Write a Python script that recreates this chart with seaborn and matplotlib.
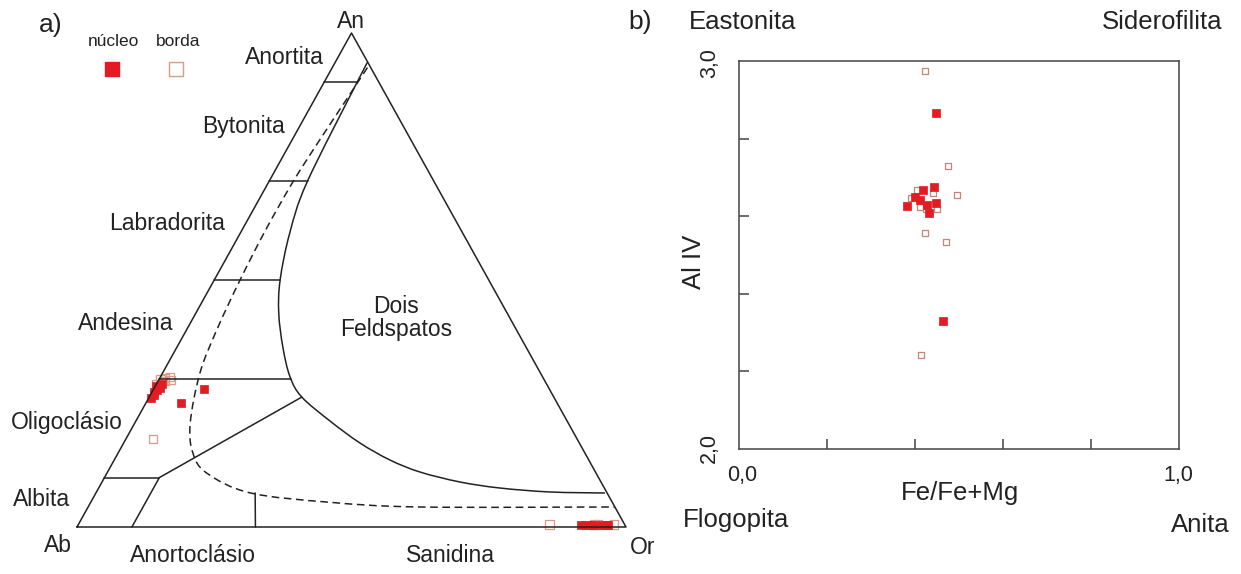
import matplotlib
matplotlib.use("Agg")
import matplotlib.pyplot as plt
from matplotlib.path import Path
from matplotlib.patches import PathPatch
import numpy as np
import pandas as pd
import seaborn as sns

# ---- data: feldspar compositions (An, Or fractions; Ab = rest) ----
nucleo_an = [0.267, 0.277, 0.281, 0.289, 0.285, 0.273, 0.262, 0.279, 0.251,
             0.005, 0.005, 0.005, 0.005, 0.005, 0.005, 0.005]
nucleo_or = [0.007, 0.007, 0.010, 0.010, 0.002, 0.004, 0.004, 0.092, 0.064,
             0.916, 0.925, 0.934, 0.940, 0.953, 0.962, 0.965]
borda_an = [0.300, 0.301, 0.303, 0.298, 0.295, 0.290, 0.178,
            0.005, 0.005, 0.005, 0.005]
borda_or = [0.002, 0.010, 0.018, 0.022, 0.012, 0.000, 0.050,
            0.858, 0.940, 0.947, 0.976]

# ---- data: biotite Fe/(Fe+Mg) vs Al IV ----
nucleo_fe = [0.448, 0.443, 0.418, 0.400, 0.411, 0.382, 0.427, 0.448, 0.432, 0.464]
nucleo_al = [2.866, 2.675, 2.668, 2.649, 2.642, 2.626, 2.629, 2.634, 2.608, 2.330]
borda_fe = [0.423, 0.475, 0.495, 0.405, 0.391, 0.441, 0.411, 0.450, 0.425,
            0.423, 0.470, 0.414]
borda_al = [2.974, 2.729, 2.655, 2.668, 2.647, 2.660, 2.624, 2.619, 2.619,
            2.557, 2.534, 2.242]

# ---- ternary field boundaries (An, Or) ----
two_feld = [(0.941, 0.059), (0.901, 0.060), (0.698, 0.070), (0.595, 0.090),
            (0.50, 0.120), (0.433, 0.151), (0.364, 0.193), (0.304, 0.236),
            (0.263, 0.278), (0.2146, 0.3535), (0.170, 0.4305), (0.1356, 0.5023),
            (0.1113, 0.5691), (0.0911, 0.6521), (0.0789, 0.731),
            (0.0709, 0.8262), (0.0688, 0.9273)]
solvus = [(0.93, 0.064), (0.864, 0.058), (0.78, 0.050), (0.698, 0.044),
          (0.60, 0.043), (0.50, 0.047), (0.40, 0.055), (0.312, 0.068),
          (0.2105, 0.101), (0.150, 0.136), (0.109, 0.182), (0.069, 0.281),
          (0.050, 0.436), (0.0405, 0.605), (0.0405, 0.9595)]
plag_lines = [[(0.9, 0.0), (0.9, 0.060)], [(0.7, 0.0), (0.7, 0.070)],
              [(0.5, 0.0), (0.5, 0.120)], [(0.3, 0.0), (0.3, 0.240)],
              [(0.1, 0.0), (0.1, 0.100)], [(0.1, 0.100), (0.263, 0.278)],
              [(0.1, 0.100), (0.0, 0.100)], [(0.0, 0.325), (0.069, 0.290)]]

W, H = 1241, 574
red = "#E31B23"
pale = "#DE9A86"
ink = "#222222"

sns.set_style("white")
plt.rcParams["font.family"] = ["Liberation Sans", "DejaVu Sans"]
fig = plt.figure(figsize=(W / 100, H / 100), dpi=100)


def fig_text(x, y, s, size=16.5, **kw):
    kw.setdefault("ha", "center")
    fig.text(x / W, 1 - y / H, s, fontsize=size, va="center", color=ink, **kw)


def tern(an, orr):
    an = np.asarray(an, dtype=float)
    orr = np.asarray(orr, dtype=float)
    return orr + an / 2, an


def smooth_path(pts):
    # catmull-rom vertices turned into cubic bezier segments
    x, y = tern(*zip(*pts))
    p = np.column_stack([x, y])
    verts = [p[0]]
    codes = [Path.MOVETO]
    n = len(p)
    for i in range(n - 1):
        p0 = p[max(i - 1, 0)]
        p1, p2 = p[i], p[i + 1]
        p3 = p[min(i + 2, n - 1)]
        verts += [p1 + (p2 - p0) / 6, p2 - (p3 - p1) / 6, p2]
        codes += [Path.CURVE4] * 3
    return Path(verts, codes)


# ---------------- panel a: ternary ----------------
ax1 = fig.add_axes([77 / W, 1 - 527 / H, 549 / W, 494 / H])
ax1.set_xlim(0, 1)
ax1.set_ylim(0, 1)
ax1.axis("off")

tx, ty = tern([0, 0, 1, 0], [0, 1, 0, 0])
ax1.plot(tx, ty, color=ink, lw=1.1, clip_on=False)
ax1.add_patch(PathPatch(smooth_path(two_feld), fill=False, edgecolor=ink,
                        lw=1.1, clip_on=False))
ax1.add_patch(PathPatch(smooth_path(solvus), fill=False, edgecolor=ink,
                        lw=1.1, ls=(0, (5, 3)), clip_on=False))
for seg in plag_lines:
    x, y = tern(*zip(*seg))
    ax1.plot(x, y, color=ink, lw=1.1, clip_on=False)

xn, yn = tern(nucleo_an, nucleo_or)
xb, yb = tern(borda_an, borda_or)
df_a_n = pd.DataFrame({"x": xn, "y": yn})
df_a_b = pd.DataFrame({"x": xb, "y": yb})
sns.scatterplot(data=df_a_b, x="x", y="y", ax=ax1, marker="s", s=36,
                facecolor="none", edgecolor=pale, linewidth=0.9, clip_on=False)
sns.scatterplot(data=df_a_n, x="x", y="y", ax=ax1, marker="s", s=38,
                color=red, edgecolor=red, linewidth=0.5, clip_on=False)

# legend
axl = fig.add_axes([0, 0, 1, 1])
axl.set_xlim(0, W)
axl.set_ylim(H, 0)
axl.axis("off")
axl.scatter([112], [69], marker="s", s=100, color=red, edgecolor=red)
axl.scatter([176], [69], marker="s", s=90, facecolor="none", edgecolor=pale, linewidth=1)
fig_text(113, 42, "núcleo", size=12.5)
fig_text(178, 42, "borda", size=12.5)

fig_text(51, 25, "a)", size=19)
fig_text(351, 21, "An")
fig_text(284, 58, "Anortita")
fig_text(243, 126, "Bytonita")
fig_text(167, 223, "Labradorita")
fig_text(126, 323, "Andesina")
fig_text(67, 422, "Oligoclásio")
fig_text(42, 500, "Albita")
fig_text(58, 545, "Ab")
fig_text(193, 556, "Anortoclásio")
fig_text(450, 556, "Sanidina")
fig_text(643, 547, "Or")
fig_text(396, 318, "Dois\nFeldspatos", linespacing=1.05)

# ---------------- panel b: biotite ----------------
ax2 = fig.add_axes([739 / W, 1 - 449 / H, 440 / W, 388 / H])
df_b_n = pd.DataFrame({"fe": nucleo_fe, "al": nucleo_al})
df_b_b = pd.DataFrame({"fe": borda_fe, "al": borda_al})
sns.scatterplot(data=df_b_b, x="fe", y="al", ax=ax2, marker="s", s=22,
                facecolor="none", edgecolor="#C98574", linewidth=0.9)
sns.scatterplot(data=df_b_n, x="fe", y="al", ax=ax2, marker="s", s=26,
                color=red, edgecolor=red, linewidth=0.5)
ax2.set_xlim(0, 1)
ax2.set_ylim(2.0, 3.0)
ax2.set_xticks([0.2, 0.4, 0.6, 0.8])
ax2.set_yticks([2.2, 2.4, 2.6, 2.8])
ax2.set_xticklabels([])
ax2.set_yticklabels([])
ax2.set_xlabel("")
ax2.set_ylabel("")
ax2.tick_params(direction="in", length=7.5, width=1.1, color="#444",
                bottom=True, left=True, top=False, right=False)
for sp in ax2.spines.values():
    sp.set_color("#444")
    sp.set_linewidth(1.1)

fig_text(640, 22, "b)", size=19)
fig_text(743, 22, "Eastonita", size=18.5)
fig_text(1162, 22, "Siderofilita", size=18.5)
fig_text(710, 63, "3,0", size=15.5, rotation=90)
fig_text(709, 448, "2,0", size=15.5, rotation=90)
fig_text(742, 475, "0,0", size=15.5)
fig_text(1178, 475, "1,0", size=15.5)
fig_text(960, 493, "Fe/Fe+Mg", size=18.5)
fig_text(694, 262, "Al IV", size=18.5, rotation=90)
fig_text(736, 520, "Flogopita", size=18.5)
fig_text(1200, 525, "Anita", size=18.5)

fig.savefig("out.png", dpi=100, facecolor="white")
